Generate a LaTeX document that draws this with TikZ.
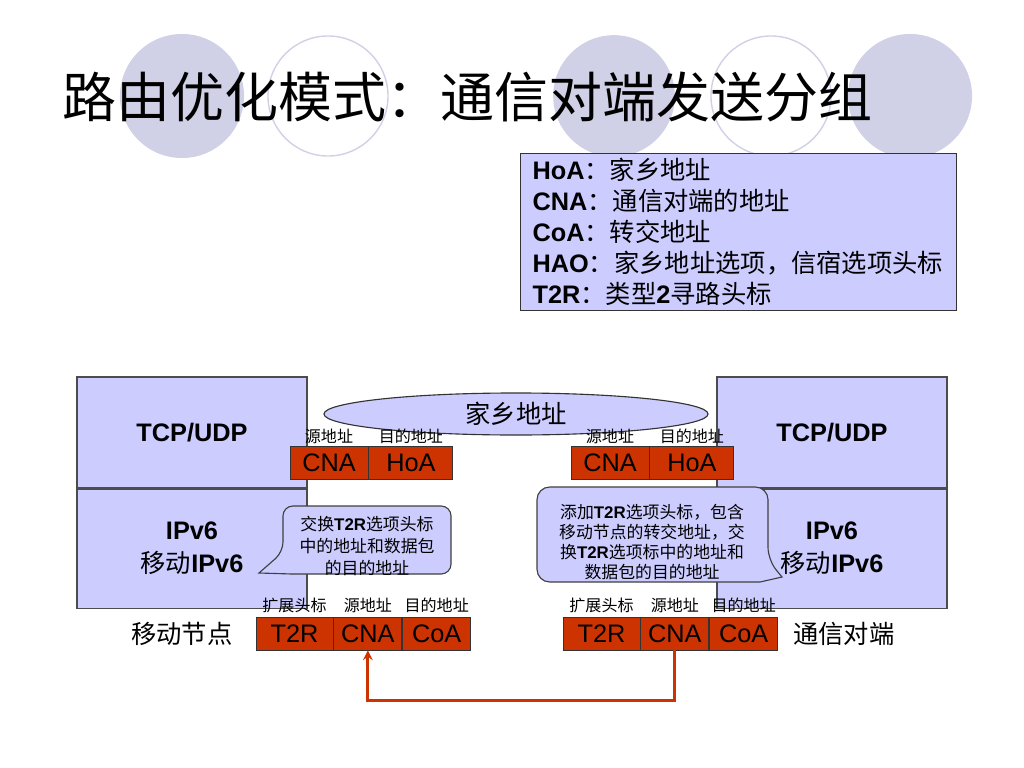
\documentclass[tikz,border=0pt]{standalone}
\usepackage{fontspec}
\setmainfont{Liberation Sans}
\newfontfamily\cjkfont{Noto Sans CJK SC}
\newcommand{\zh}[1]{{\cjkfont\mdseries #1}}
\newcommand{\fsz}[2]{\fontsize{#1}{#2}\selectfont}
\usepackage{tikz}
\usetikzlibrary{shapes.geometric,arrows}
\usetikzlibrary{positioning}
\definecolor{lav}{RGB}{204,204,255}
\definecolor{pkt}{RGB}{204,51,0}
\definecolor{dot}{RGB}{208,208,230}
\tikzstyle{layer} = [rectangle, minimum width=5.75cm, text centered, align=center,%
    draw=black!70, line width=.8pt, fill=lav, font=\fsz{18}{23.5}\bfseries]
\tikzstyle{field} = [rectangle, minimum height=.825cm, inner sep=0pt,
draw=black!80, line width=.6pt, fill=pkt, font=\fsz{18}{20}]
\tikzstyle{tag} = [inner sep=1pt, font=\fsz{11.4}{13}\cjkfont]
\tikzstyle{side} = [inner sep=2pt, font=\fsz{18}{20}\cjkfont]
\tikzstyle{note} = [draw=black!75, line width=.8pt, fill=lav]
\tikzstyle{arrow} = [line width=2pt, draw=pkt, ->, >=stealth]

\begin{document}
\begin{tikzpicture}[x=0.025cm, y=-0.025cm]
        \useasboundingbox (0,0) rectangle (1024,768);
        \fill[dot] (182,96) circle[radius=1.55cm];
        \draw[dot, line width=1pt] (328,96) circle[radius=1.5cm];
        \fill[dot] (614,96) circle[radius=1.52cm];
        \draw[dot, line width=1pt] (771,96) circle[radius=1.5cm];
        \fill[dot] (910,96) circle[radius=1.55cm];
        \node (title) [anchor=west, inner sep=0pt, font=\fsz{38.4}{40}\cjkfont] at (62,97) {路由优化模式：通信对端发送分组};
        \node (legend) [anchor=north west, draw=black!80, line width=.8pt, fill=lav, minimum height=3.85cm,
            inner xsep=.3cm, text width=10.3cm, align=left, font=\fsz{18}{22}] at (520,153)
            {\textbf{HoA}\zh{：家乡地址}\\
             \textbf{CNA}\zh{：通信对端的地址}\\
             \textbf{CoA}\zh{：转交地址}\\
             \textbf{HAO}\zh{：家乡地址选项，信宿选项头标}\\
             \textbf{T2R}\zh{：类型}\textbf{2}\zh{寻路头标}};
        \node (mtcp) [layer, minimum height=2.775cm] at (192,432.5) {TCP/UDP};
        \node (mip) [layer, minimum height=2.975cm, below=0pt of mtcp] {IPv6\\\zh{移动}IPv6};
        \node (ctcp) [layer, minimum height=2.775cm] at (832,432.5) {TCP/UDP};
        \node (cip) [layer, minimum height=2.975cm, below=0pt of ctcp] {IPv6\\\zh{移动}IPv6};
        \node (home) [ellipse, draw=black!80, line width=.8pt, fill=lav, minimum width=9.6cm,
            minimum height=1.05cm, inner sep=0pt, font=\fsz{18}{20}\cjkfont] at (516,414) {家乡地址};
        % home address packets
        \node (mcnah) [field, minimum width=1.95cm] at (329,462.5) {CNA};
        \node (mhoa) [field, minimum width=2.1cm, right=0pt of mcnah] {HoA};
        \node (msrc) [tag, above=0pt of mcnah] {源地址};
        \node (mdst) [tag, above=0pt of mhoa] {目的地址};
        \node (ccnah) [field, minimum width=1.95cm] at (610,462.5) {CNA};
        \node (choa) [field, minimum width=2.1cm, right=0pt of ccnah] {HoA};
        \node (csrc) [tag, above=0pt of ccnah] {源地址};
        \node (cdst) [tag, above=0pt of choa] {目的地址};
        % routing header packets
        \node (mt2r) [field, minimum width=1.925cm] at (294.5,633.5) {T2R};
        \node (mcna) [field, minimum width=1.7cm, right=0pt of mt2r] {CNA};
        \node (mcoa) [field, minimum width=1.7cm, right=0pt of mcna] {CoA};
        \node (mext) [tag, above=.05cm of mt2r] {扩展头标};
        \node (msrc2) [tag, above=.05cm of mcna] {源地址};
        \node (mdst2) [tag, above=.05cm of mcoa] {目的地址};
        \node (ct2r) [field, minimum width=1.925cm] at (601.5,633.5) {T2R};
        \node (ccna) [field, minimum width=1.7cm, right=0pt of ct2r] {CNA};
        \node (ccoa) [field, minimum width=1.7cm, right=0pt of ccna] {CoA};
        \node (cext) [tag, above=.05cm of ct2r] {扩展头标};
        \node (csrc2) [tag, above=.05cm of ccna] {源地址};
        \node (cdst2) [tag, above=.05cm of ccoa] {目的地址};
        \node (mn) [side, left=.5cm of mt2r] {移动节点};
        \node (cn) [side, right=.3cm of ccoa] {通信对端};
        \draw [arrow] (ccna.south) -- ++(0,50) -| (mcna.south);
        % callouts
        \draw [note] (283,552) -- (259,573) -- (292,574) [rounded corners=7pt] -- (451,574) -- (451,506) -- (283,506) -- cycle;
        \node (swap) [align=center, font=\fsz{12}{15.6}] at (367,546)
            {\zh{交换}\textbf{T2R}\zh{选项头标}\\\zh{中的地址和数据包}\\\zh{的目的地址}};
        \draw [note] (768,560) -- (782,577) -- (760,582) [rounded corners=9pt] -- (537,582) -- (537,487) -- (768,487) -- cycle;
        \node (add) [align=center, font=\fsz{12}{14.2}] at (652,542)
            {\zh{添加}\textbf{T2R}\zh{选项头标，包含}\\\zh{移动节点的转交地址，交}\\
             \zh{换}\textbf{T2R}\zh{选项标中的地址和}\\\zh{数据包的目的地址}};
\end{tikzpicture}
\end{document}
